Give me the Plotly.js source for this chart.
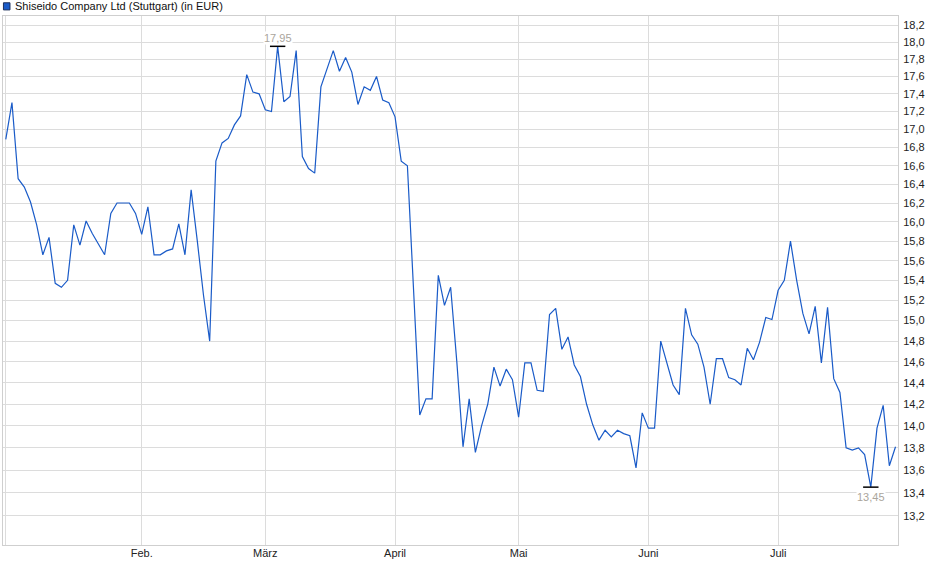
<!DOCTYPE html>
<html>
<head>
<meta charset="utf-8">
<script src="https://cdn.plot.ly/plotly-3.0.1.min.js"></script>
<style>
  html, body { margin: 0; padding: 0; background: #fff; }
  #chart { width: 940px; height: 579px; }
</style>
</head>
<body>
<div id="chart"></div>
<script>
// Schlusskurse pro Handelstag (Index 0 = erster Handelstag im Januar)
const prices = [
    16.89, 17.30, 16.46, 16.37, 16.21, 15.97, 15.66, 15.84, 15.37, 15.33,
    15.40, 15.97, 15.76, 16.01, 15.88, 15.77, 15.66, 16.09, 16.20, 16.20,
    16.20, 16.09, 15.87, 16.16, 15.66, 15.66, 15.70, 15.72, 15.98, 15.66,
    16.34, 15.80, 15.25, 14.80, 16.65, 16.85, 16.90, 17.05, 17.15, 17.62,
    17.42, 17.40, 17.22, 17.20, 17.95, 17.31, 17.37, 17.90, 16.70, 16.57,
    16.52, 17.48, 17.68, 17.90, 17.66, 17.82, 17.65, 17.28, 17.48, 17.44,
    17.60, 17.33, 17.30, 17.14, 16.65, 16.60, 15.30, 14.10, 14.25, 14.25,
    15.45, 15.15, 15.33, 14.60, 13.81, 14.25, 13.76, 14.00, 14.20, 14.55,
    14.37, 14.53, 14.43, 14.08, 14.59, 14.59, 14.33, 14.32, 15.06, 15.12,
    14.72, 14.84, 14.57, 14.46, 14.20, 14.01, 13.87, 13.96, 13.90, 13.96,
    13.93, 13.91, 13.62, 14.12, 13.98, 13.98, 14.80, 14.60, 14.38, 14.29,
    15.12, 14.86, 14.77, 14.55, 14.20, 14.63, 14.63, 14.45, 14.43, 14.38,
    14.73, 14.62, 14.79, 15.03, 15.01, 15.30, 15.40, 15.80, 15.40, 15.07,
    14.87, 15.14, 14.59, 15.13, 14.44, 14.31, 13.80, 13.78, 13.80, 13.74,
    13.45, 13.98, 14.19, 13.64, 13.81
];

// erster Handelstag jedes Monats (Jan. ohne Beschriftung)
const monthStartIdx = [0, 22, 42, 63, 83, 104, 125];
const monthLabels = ['', 'Feb.', 'März', 'April', 'Mai', 'Juni', 'Juli'];

const yTicks = [13.2, 13.4, 13.6, 13.8, 14.0, 14.2, 14.4, 14.6, 14.8, 15.0, 15.2,
    15.4, 15.6, 15.8, 16.0, 16.2, 16.4, 16.6, 16.8, 17.0, 17.2, 17.4, 17.6, 17.8, 18.0, 18.2];

const seriesName = 'Shiseido Company Ltd (Stuttgart) (in EUR)';

const xs = prices.map((_, i) => i);
const maxVal = Math.max(...prices);
const minVal = Math.min(...prices);
const iMax = prices.indexOf(maxVal);
const iMin = prices.indexOf(minVal);

const fmt = v => v.toFixed(2).replace('.', ',');
const font = 'Liberation Sans, Arial, sans-serif';
const grid = '#dcdcdc';

const traces = [
    {
        x: xs, y: prices, type: 'scatter', mode: 'lines',
        line: {color: '#1a5bc8', width: 1.2},
        hoverinfo: 'skip', showlegend: false
    },
    // kleine Striche an Hoch und Tief
    {
        x: [iMax, iMin], y: [maxVal, minVal], type: 'scatter', mode: 'markers',
        marker: {symbol: 'line-ew', size: 11, line: {width: 1.5, color: '#000'}},
        hoverinfo: 'skip', showlegend: false
    }
];

const layout = {
    width: 940, height: 579,
    margin: {l: 3, r: 42, t: 16, b: 34},
    paper_bgcolor: '#fff', plot_bgcolor: '#fff',
    separators: ',.',
    font: {family: font, size: 11, color: '#222'},
    title: {
        text: seriesName, font: {family: font, size: 11, color: '#111'},
        xref: 'container', yref: 'container', x: 15 / 940, xanchor: 'left',
        y: 1 - 6 / 579, yanchor: 'middle'
    },
    xaxis: {
        range: [-0.45, 144.4],
        tickmode: 'array', tickvals: monthStartIdx, ticktext: monthLabels,
        showgrid: true, gridcolor: grid, gridwidth: 1,
        showline: true, mirror: true, linecolor: '#cfcfcf', linewidth: 1,
        ticks: '', zeroline: false, ticklabelstandoff: -2,
        tickfont: {family: font, size: 11, color: '#222'}
    },
    yaxis: {
        type: 'log', side: 'right',
        range: [Math.log10(12.95), Math.log10(18.31)],
        tickmode: 'array', tickvals: yTicks, tickformat: '.1f',
        showgrid: true, gridcolor: grid, gridwidth: 1,
        showline: true, mirror: true, linecolor: '#cfcfcf', linewidth: 1,
        ticks: '', zeroline: false, ticklabelstandoff: 2,
        tickfont: {family: font, size: 11, color: '#222'}
    },
    shapes: [{
        type: 'rect', xref: 'paper', yref: 'paper',
        x0: 0.0005, x1: 0.0078, y0: 1.0115, y1: 1.0250,
        fillcolor: '#1a5bc8', line: {color: '#1d2f5a', width: 1}
    }],
    annotations: [
        {
            x: iMax, y: Math.log10(maxVal), text: fmt(maxVal), showarrow: false,
            yanchor: 'bottom', yshift: 1, bgcolor: '#fff', borderpad: 0,
            font: {family: font, size: 11, color: '#aaa59c'}
        },
        {
            x: iMin, y: Math.log10(minVal), text: fmt(minVal), showarrow: false,
            yanchor: 'top', yshift: -3, bgcolor: '#fff', borderpad: 0,
            font: {family: font, size: 11, color: '#aaa59c'}
        }
    ]
};

Plotly.newPlot('chart', traces, layout, {staticPlot: true, displayModeBar: false});
</script>
</body>
</html>
